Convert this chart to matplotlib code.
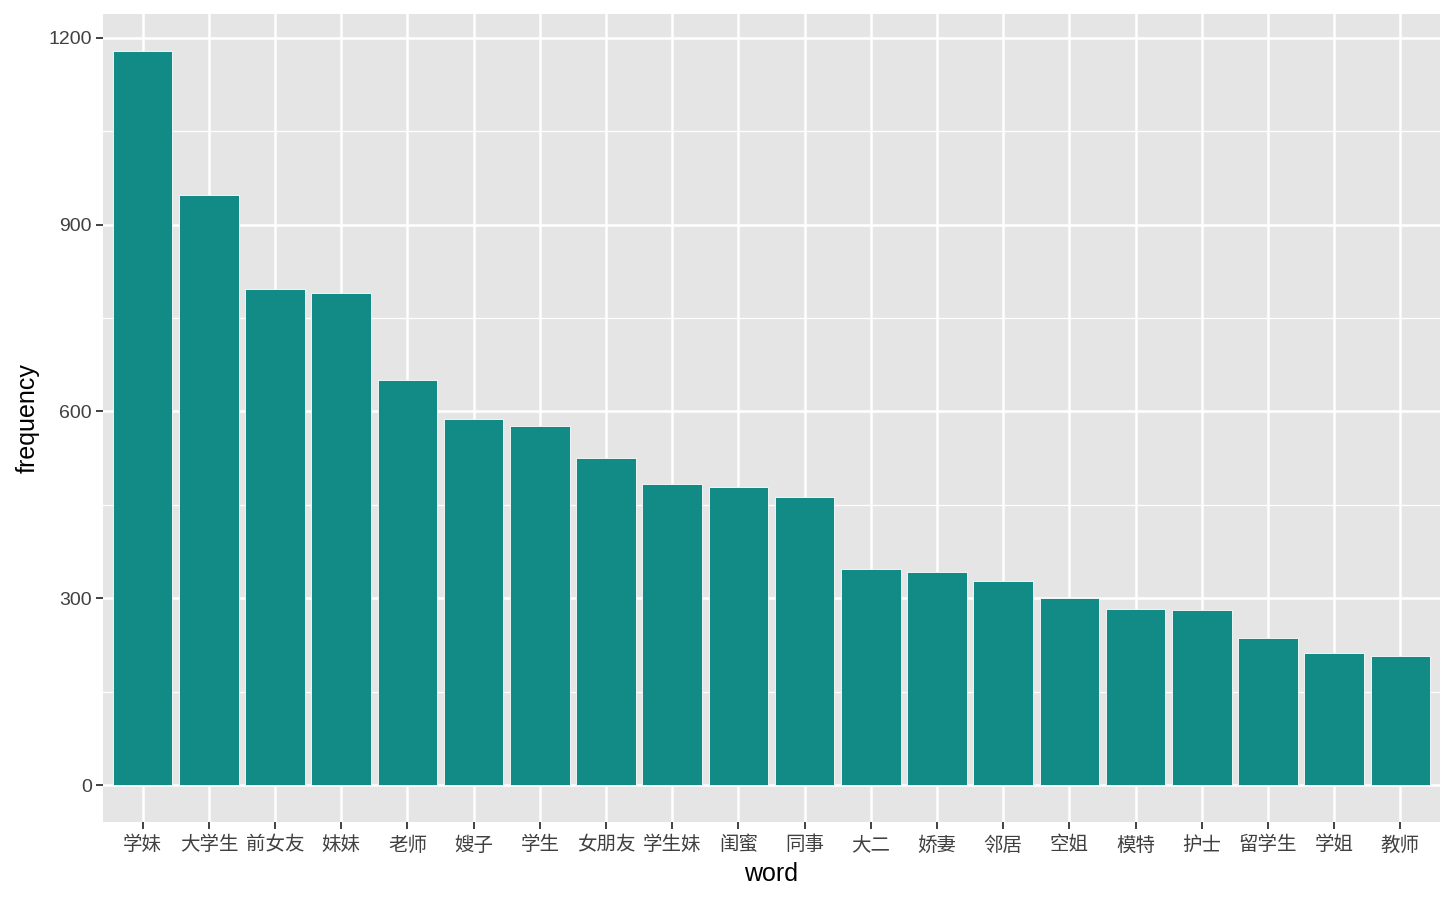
import matplotlib
matplotlib.use("Agg")
import matplotlib.pyplot as plt
from matplotlib.ticker import MultipleLocator

words = ['学妹', '大学生', '前女友', '妹妹', '老师', '嫂子', '学生', '女朋友', '学生妹', '闺蜜',
         '同事', '大二', '娇妻', '邻居', '空姐', '模特', '护士', '留学生', '学姐', '教师']
frequency = [1179, 948, 797, 790, 651, 588, 577, 525, 484, 479,
             463, 347, 342, 328, 300, 283, 281, 236, 212, 207]

plt.rcParams['font.family'] = ['Liberation Sans', 'Noto Sans CJK SC', 'DejaVu Sans']

fig = plt.figure(figsize=(14.56, 8.99), dpi=100)
ax = fig.add_axes([103 / 1456, 1 - 822 / 899, (1440 - 103) / 1456, (822 - 14) / 899])
ax.set_facecolor('#E5E5E5')

x = list(range(len(words)))
ax.bar(x, frequency, width=0.9, color='#128A86', edgecolor='white', linewidth=0.6, zorder=3)

ymax = max(frequency)
ax.set_xlim(-0.6, len(words) - 0.4)
ax.set_ylim(-0.05 * ymax, 1.05 * ymax)
ax.yaxis.set_major_locator(MultipleLocator(300))
ax.yaxis.set_minor_locator(MultipleLocator(150))
ax.set_xticks(x)
ax.set_xticklabels(words, family=['Noto Sans CJK SC', 'DejaVu Sans'], fontsize=14)

ax.grid(which='major', color='white', linewidth=1.8, zorder=1)
ax.grid(which='minor', axis='y', color='white', linewidth=0.9, zorder=1)
ax.tick_params(which='minor', length=0)
ax.tick_params(which='major', length=5, width=1.3, color='#333333',
               labelsize=14, labelcolor='#404040', pad=3)
ax.tick_params(axis='x', pad=4)
for s in ax.spines.values():
    s.set_visible(False)

ax.set_xlabel('word', fontsize=18, color='black', labelpad=5)
ax.set_ylabel('frequency', fontsize=18, color='black', labelpad=6)

fig.savefig('out.png', dpi=100)
